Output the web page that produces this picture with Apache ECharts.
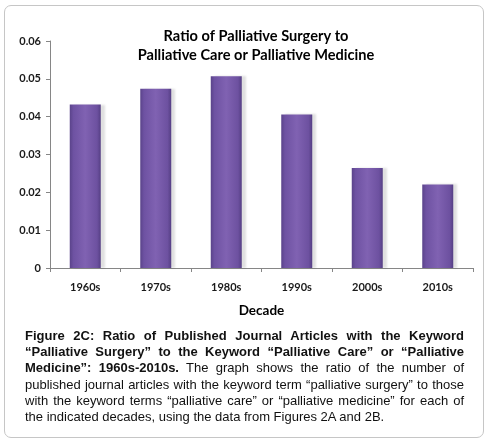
<!DOCTYPE html>
<html>
<head>
<meta charset="utf-8">
<script src="https://cdn.jsdelivr.net/npm/echarts@6/dist/echarts.min.js"></script>
<style>
  html, body { margin: 0; padding: 0; background: #fff; }
  #frame {
    position: absolute; left: 4px; top: 5px; width: 478px; height: 431px;
    border: 1.5px solid #c6c6c6; border-radius: 7px;
  }
  #chart { position: absolute; left: 0; top: 0; width: 490px; height: 443px; }
  #caption {
    position: absolute; left: 25px; top: 328px; width: 439px;
    font-family: "Liberation Sans", Arial, sans-serif; font-size: 13px;
    line-height: 16.2px; color: #111; text-align: justify;
  }
</style>
</head>
<body>
<div id="frame"></div>
<div id="chart"></div>
<div id="caption"><b>Figure 2C: Ratio of Published Journal Articles with the Keyword “Palliative Surgery” to the Keyword “Palliative Care” or “Palliative Medicine”: 1960s-2010s.</b> The graph shows the ratio of the number of published journal articles with the keyword term “palliative surgery” to those with the keyword terms “palliative care” or “palliative medicine” for each of the indicated decades, using the data from Figures 2A and 2B.</div>
<script>
// values
const decades = ['1960s', '1970s', '1980s', '1990s', '2000s', '2010s'];
const ratios = [0.0432, 0.0474, 0.0507, 0.0406, 0.0264, 0.0221];
const titleLines = ['Ratio of Palliative Surgery to', 'Palliative Care or Palliative Medicine'];

const chart = echarts.init(document.getElementById('chart'), null, { renderer: 'canvas' });

const barColor = new echarts.graphic.LinearGradient(0, 0, 1, 0, [
  { offset: 0, color: '#5a438a' },
  { offset: 0.12, color: '#6e52a2' },
  { offset: 0.5, color: '#8062b2' },
  { offset: 0.88, color: '#6d51a0' },
  { offset: 1, color: '#553f84' }
]);

chart.setOption({
  animation: false,
  title: {
    text: titleLines.join('\n'),
    left: 251,
    textAlign: 'center',
    top: 22,
    textStyle: {
      fontFamily: 'Lato, "Open Sans", sans-serif',
      fontSize: 14.6,
      fontWeight: 'bold',
      color: '#000',
      lineHeight: 19
    }
  },
  grid: { left: 50, right: 17, top: 41, bottom: 175 },
  xAxis: {
    type: 'category',
    data: decades,
    name: 'Decade',
    nameLocation: 'middle',
    nameGap: 36,
    nameTextStyle: {
      fontFamily: 'Lato, "Open Sans", sans-serif',
      fontSize: 13.5, fontWeight: 'bold', color: '#000'
    },
    axisLine: { lineStyle: { color: '#868686', width: 1 } },
    axisTick: { show: true, length: 4, lineStyle: { color: '#868686' } },
    axisLabel: {
      margin: 14,
      fontFamily: 'Lato, "Open Sans", sans-serif',
      fontSize: 11, fontWeight: 'bold', color: '#1a1a1a'
    }
  },
  yAxis: {
    type: 'value',
    min: 0,
    max: 0.06,
    interval: 0.01,
    splitLine: { show: false },
    axisLine: { show: true, lineStyle: { color: '#868686', width: 1 } },
    axisTick: { show: true, length: 4, lineStyle: { color: '#868686' } },
    axisLabel: {
      margin: 9,
      fontFamily: 'Lato, "Open Sans", sans-serif',
      fontSize: 11, fontWeight: 'bold', color: '#1a1a1a',
      formatter: v => v === 0 ? '0' : v.toFixed(2)
    }
  },
  series: [{
    type: 'bar',
    data: ratios,
    barWidth: 31,
    itemStyle: {
      color: barColor,
      shadowColor: 'rgba(0,0,0,0.12)',
      shadowBlur: 2,
      shadowOffsetX: 4,
      shadowOffsetY: 0
    }
  }]
});
</script>
</body>
</html>
